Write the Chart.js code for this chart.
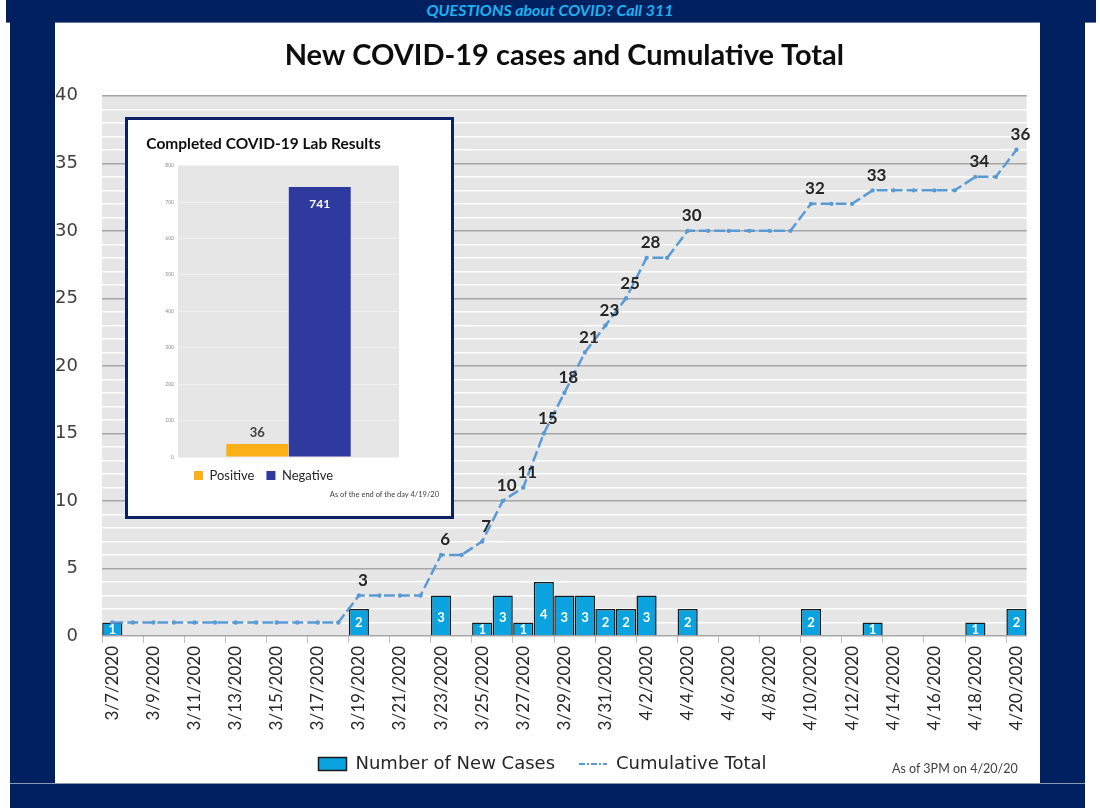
<!DOCTYPE html>
<html lang="en">
<head>
  <meta charset="UTF-8" />
  <title>New COVID-19 cases and Cumulative Total</title>
  <script src="https://cdn.jsdelivr.net/npm/chart.js"></script>
  <style>
    body { margin: 0; width: 1100px; height: 812px; background: #fff; position: relative; overflow: hidden; font-family: Lato, sans-serif; }
    .navy { position: absolute; background: #002060; }
    #topBand { left: 6px; top: 0; width: 1090px; height: 22px; border-bottom: 1px solid #5f7a99; }
    #leftBand { left: 10px; top: 22px; width: 45px; height: 761px; }
    #rightBand { left: 1040px; top: 22px; width: 45px; height: 761px; }
    #bottomBand { left: 10px; top: 783px; width: 1075px; height: 24px; border-top: 1px solid #8a9ab0; }
    #hotline { position: absolute; left: 0; top: 0; width: 1100px; height: 22px; line-height: 22px; text-align: center;
      color: #1cb2f0; font: italic bold 16px Lato, sans-serif; }
    #mainWrap { position: absolute; left: 55px; top: 22px; width: 985px; height: 761px; }
    #asOf { position: absolute; left: 892px; top: 761px; font-size: 12.5px; color: #404040; }
    #inset { position: absolute; left: 125px; top: 117px; width: 323px; height: 396px; background: #fff; border: 3px solid #0c2163; }
    #insetWrap { position: absolute; left: 0; top: 0; width: 323px; height: 396px; }
    #insetNote { position: absolute; right: 12px; top: 370px; font-size: 7.5px; color: #404040; }
  </style>
</head>
<body>
  <div class="navy" id="topBand"></div>
  <div class="navy" id="leftBand"></div>
  <div class="navy" id="rightBand"></div>
  <div class="navy" id="bottomBand"></div>
  <div id="hotline">QUESTIONS about COVID? Call 311</div>

  <div id="mainWrap"><canvas id="casesChart"></canvas></div>
  <div id="asOf">As of 3PM on 4/20/20</div>

  <div id="inset">
    <div id="insetWrap"><canvas id="labChart"></canvas></div>
    <div id="insetNote">As of the end of the day 4/19/20</div>
  </div>

  <script>
    const dates = [
      "3/7/2020", "3/8/2020", "3/9/2020", "3/10/2020", "3/11/2020", "3/12/2020", "3/13/2020",
      "3/14/2020", "3/15/2020", "3/16/2020", "3/17/2020", "3/18/2020", "3/19/2020", "3/20/2020",
      "3/21/2020", "3/22/2020", "3/23/2020", "3/24/2020", "3/25/2020", "3/26/2020", "3/27/2020",
      "3/28/2020", "3/29/2020", "3/30/2020", "3/31/2020", "4/1/2020", "4/2/2020", "4/3/2020",
      "4/4/2020", "4/5/2020", "4/6/2020", "4/7/2020", "4/8/2020", "4/9/2020", "4/10/2020",
      "4/11/2020", "4/12/2020", "4/13/2020", "4/14/2020", "4/15/2020", "4/16/2020", "4/17/2020",
      "4/18/2020", "4/19/2020", "4/20/2020"
    ];
    const newCases = [
      1, 0, 0, 0, 0, 0, 0, 0, 0, 0, 0, 0, 2, 0, 0, 0, 3, 0, 1, 3, 1, 4, 3,
      3, 2, 2, 3, 0, 2, 0, 0, 0, 0, 0, 2, 0, 0, 1, 0, 0, 0, 0, 1, 0, 2
    ];
    const cumulative = [
      1, 1, 1, 1, 1, 1, 1, 1, 1, 1, 1, 1, 3, 3, 3, 3, 6, 6, 7, 10, 11, 15, 18,
      21, 23, 25, 28, 28, 30, 30, 30, 30, 30, 30, 32, 32, 32, 33, 33, 33, 33, 33, 34, 34, 36
    ];
    const yTicks = [0, 5, 10, 15, 20, 25, 30, 35, 40];

    const labCategories = ["Positive", "Negative"];
    const labValues = [36, 741];

    // fond gris de la zone de tracé
    const plotBg = {
      id: "plotBg",
      beforeDraw(chart, args, opts) {
        const a = chart.chartArea, c = chart.ctx;
        c.save();
        c.fillStyle = opts.color;
        c.fillRect(a.left, a.top, a.right - a.left, a.bottom - a.top);
        c.restore();
      }
    };

    // étiquettes : chiffres blancs dans les barres, totaux au-dessus de la ligne
    const caseLabels = {
      id: "caseLabels",
      afterDatasetsDraw(chart) {
        const c = chart.ctx;
        const bars = chart.getDatasetMeta(0).data;
        c.save();
        c.font = "bold 13px Lato";
        c.fillStyle = "#ffffff";
        c.textAlign = "center";
        c.textBaseline = "middle";
        bars.forEach((bar, i) => {
          if (!newCases[i]) return;
          const h = bar.base - bar.y;
          const up = h <= 27 ? h / 2 - 1 : 13.5 + (h - 27) * 0.28;
          c.save();
          c.beginPath();
          c.rect(bar.x - bar.width / 2, bar.y, bar.width, h);
          c.clip();
          c.fillText(String(newCases[i]), bar.x, bar.base - up);
          c.restore();
        });
        const pts = chart.getDatasetMeta(1).data;
        c.font = "bold 17px Lato";
        c.fillStyle = "#262626";
        pts.forEach((pt, i) => {
          if (i === 0 || cumulative[i] === cumulative[i - 1]) return;
          c.fillText(String(cumulative[i]), pt.x + 4, pt.y - 15);
        });
        c.restore();
      }
    };

    new Chart(document.getElementById("casesChart"), {
      data: {
        labels: dates,
        datasets: [
          {
            type: "bar",
            label: "Number of New Cases",
            data: newCases,
            backgroundColor: "#0ba3df",
            borderColor: "#1a1a1a",
            borderWidth: 1.5,
            categoryPercentage: 1.0,
            barPercentage: 0.98,
            order: 1
          },
          {
            type: "line",
            label: "Cumulative Total",
            data: cumulative,
            borderColor: "#5b9bd5",
            backgroundColor: "#5b9bd5",
            borderWidth: 2.5,
            borderDash: [11, 4],
            pointRadius: 2.2,
            pointBorderWidth: 0,
            tension: 0,
            order: 0
          }
        ]
      },
      options: {
        responsive: true,
        maintainAspectRatio: false,
        animation: false,
        layout: { padding: { top: 16, right: 10, bottom: 0, left: 0 } },
        scales: {
          x: {
            offset: true,
            border: { display: false },
            grid: {
              offset: true,
              drawOnChartArea: false,
              tickLength: 7,
              color: (ctx) => (ctx.index % 2 === 0 ? "#bfbfbf" : "rgba(0,0,0,0)")
            },
            ticks: {
              autoSkip: false,
              minRotation: 90,
              maxRotation: 90,
              padding: 3,
              color: "#262626",
              font: { family: "Lato", size: 17 },
              callback: (v, i) => (i % 2 === 0 ? dates[i] : "")
            },
            afterFit: (scale) => { scale.height = 95; }
          },
          y: {
            min: 0,
            max: 40,
            border: { display: false },
            grid: {
              drawTicks: false,
              lineWidth: 1.5,
              color: (ctx) => (yTicks.includes(ctx.tick.value) ? "#a6a6a6" : "#ffffff")
            },
            ticks: {
              stepSize: 1,
              autoSkip: false,
              padding: 24,
              color: "#404040",
              font: { family: "DejaVu Sans", size: 18 },
              callback: (v) => (yTicks.includes(v) ? v : "")
            },
            afterFit: (scale) => { scale.width = 47; }
          }
        },
        plugins: {
          plotBg: { color: "#e7e6e6" },
          tooltip: { enabled: false },
          title: {
            display: true,
            fullSize: false,
            text: "New COVID-19 cases and Cumulative Total",
            color: "#0d0d0d",
            font: { family: "Lato", size: 29, weight: "bold" },
            padding: { top: 0, bottom: 23 }
          },
          legend: {
            position: "bottom",
            labels: {
              usePointStyle: true,
              pointStyleWidth: 28,
              boxHeight: 13,
              padding: 24,
              color: "#262626",
              font: { family: "DejaVu Sans", size: 18 },
              sort: (a, b) => a.datasetIndex - b.datasetIndex,
              generateLabels(chart) {
                const items = Chart.defaults.plugins.legend.labels.generateLabels(chart);
                items.forEach((it) => {
                  if (it.datasetIndex === 0) {
                    it.pointStyle = "rect";
                    it.lineWidth = 1.5;
                    it.strokeStyle = "#1a1a1a";
                  } else {
                    it.pointStyle = "line";
                    it.lineWidth = 2.2;
                    it.lineDash = [6, 2, 2, 2];
                    it.strokeStyle = "#5b9bd5";
                  }
                });
                return items;
              }
            }
          }
        }
      },
      plugins: [plotBg, caseLabels]
    });

    // petit graphique : résultats de laboratoire
    const labLabels = {
      id: "labLabels",
      afterDatasetsDraw(chart) {
        const c = chart.ctx;
        c.save();
        c.textAlign = "center";
        c.textBaseline = "middle";
        const pos = chart.getDatasetMeta(0).data[0];
        c.font = "bold 13px Lato";
        c.fillStyle = "#404040";
        c.fillText(String(labValues[0]), pos.x, pos.y - 11);
        const neg = chart.getDatasetMeta(1).data[0];
        c.font = "bold 12px Lato";
        c.fillStyle = "#ffffff";
        c.fillText(String(labValues[1]), neg.x, neg.y + 17);
        c.restore();
      }
    };

    new Chart(document.getElementById("labChart"), {
      type: "bar",
      data: {
        labels: [""],
        datasets: [
          { label: labCategories[0], data: [labValues[0]], backgroundColor: "#fbb01a" },
          { label: labCategories[1], data: [labValues[1]], backgroundColor: "#2e3a9e" }
        ]
      },
      options: {
        responsive: true,
        maintainAspectRatio: false,
        animation: false,
        categoryPercentage: 0.566,
        barPercentage: 0.99,
        layout: { padding: { top: 0, right: 52, bottom: 24, left: 0 } },
        scales: {
          x: { display: false },
          y: {
            min: 0,
            max: 800,
            border: { display: false },
            grid: { drawTicks: false, color: "#f2f2f2" },
            ticks: {
              stepSize: 100,
              padding: 4,
              color: "#8c8c8c",
              font: { family: "Lato", size: 5 }
            },
            afterFit: (scale) => { scale.width = 50; }
          }
        },
        plugins: {
          plotBg: { color: "#e7e6e6" },
          tooltip: { enabled: false },
          title: {
            display: true,
            text: "Completed COVID-19 Lab Results",
            color: "#0d0d0d",
            font: { family: "Lato", size: 15.5, weight: "bold" },
            padding: { top: 15, bottom: 12 }
          },
          legend: {
            position: "bottom",
            labels: {
              boxWidth: 9,
              boxHeight: 9,
              padding: 12,
              color: "#262626",
              font: { family: "Lato", size: 13 }
            }
          }
        }
      },
      plugins: [plotBg, labLabels]
    });
  </script>
</body>
</html>
